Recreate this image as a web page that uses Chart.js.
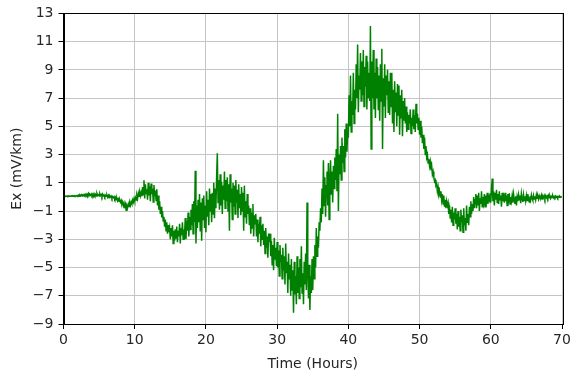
<!DOCTYPE html>
<html>
<head>
<meta charset="utf-8">
<script src="https://cdn.jsdelivr.net/npm/chart.js@4.4.1/dist/chart.umd.min.js"></script>
<style>
  body { margin: 0; background: #fff; }
</style>
</head>
<body>
<canvas id="exChart" width="570" height="373"></canvas>
<script>
// sampling of the record, hours between points
const stepHours = 0.1

// Ex values, ten samples per hour (0.0 ... 70.0 h)
const exValues = [
  0.05, 0.06, 0.05, 0.07, 0.05, 0.06, 0.04, 0.07, 0.05, 0.06,
  0.05, 0.07, 0.04, 0.08, 0.06, 0.09, 0.05, 0.08, 0.06, 0.10,
  0.07, 0.12, 0.05, 0.14, 0.08, 0.16, 0.06, 0.13, 0.09, 0.18,
  0.10, 0.17, 0.07, 0.20, 0.11, 0.24, 0.08, 0.18, 0.12, 0.21,
  0.09, 0.19, 0.05, 0.22, 0.10, 0.18, 0.06, 0.25, 0.11, 0.16,
  0.07, 0.23, 0.10, 0.17, 0.03, 0.20, 0.08, 0.14, 0.01, 0.12,
  0.04, 0.13, -0.02, 0.10, -0.06, 0.08, 0.00, 0.06, -0.09, 0.03,
  -0.05, 0.02, -0.14, -0.03, -0.20, -0.10, -0.28, -0.15, -0.30, -0.22,
  -0.38, -0.25, -0.50, -0.35, -0.62, -0.45, -0.80, -0.55, -0.95, -0.62,
  -0.75, -0.50, -0.68, -0.42, -0.60, -0.35, -0.48, -0.22, -0.38, -0.12,
  -0.30, -0.05, -0.22, 0.10, -0.12, 0.25, 0.00, 0.38, 0.08, 0.30,
  0.05, 0.70, 0.15, 1.18, -0.10, 0.90, 0.25, 0.55, -0.20, 1.00,
  0.10, 0.75, -0.30, 0.95, 0.20, 0.60, -0.35, 0.85, 0.05, 0.45,
  -0.25, 0.55, -0.60, 0.10, -0.90, -0.30, -1.20, -0.70, -1.45, -1.00,
  -1.70, -1.40, -2.10, -1.60, -2.40, -1.80, -2.60, -2.00, -2.50, -2.20,
  -3.00, -2.20, -2.80, -2.00, -3.30, -2.40, -3.10, -2.30, -2.90, -2.10,
  -3.20, -2.40, -2.80, -1.90, -3.30, -2.20, -2.70, -1.80, -3.00, -2.30,
  -2.60, -1.50, -3.00, -1.70, -2.40, -1.10, -2.80, -1.40, -2.30, -0.90,
  -2.00, -0.50, -2.60, -0.30, -1.80, 1.85, -3.30, -0.60, -2.20, -0.20,
  -1.80, 0.20, -2.40, -0.40, -3.10, -0.10, -1.60, 0.10, -2.20, -0.60,
  -2.50, 0.40, -1.40, -0.20, -2.00, 0.60, -1.00, 0.20, -1.80, 0.30,
  -1.20, 1.00, -1.50, 0.60, -0.80, 1.40, 3.10, -0.40, 1.20, -0.90,
  1.60, -0.60, 1.10, -1.20, 0.80, -0.20, 1.80, -0.80, 1.20, -0.30,
  1.40, -1.00, 0.90, -2.40, 1.60, -0.40, 0.60, -1.60, 1.00, -0.70,
  0.80, -1.20, 1.20, -0.40, 0.50, -1.50, 0.90, -0.80, 0.20, -1.30,
  0.70, -1.00, 0.30, -2.40, 0.80, -1.40, -0.30, -1.90, 0.20, -1.20,
  -0.60, -2.00, -0.80, -2.60, -1.10, -2.20, -0.50, -2.80, -1.30, -1.90,
  -1.20, -2.80, -1.60, -3.20, -1.90, -2.60, -1.40, -3.50, -2.00, -3.00,
  -1.90, -3.40, -2.40, -4.00, -2.20, -3.60, -2.80, -4.30, -2.60, -3.20,
  -2.60, -4.20, -3.10, -4.80, -3.40, -5.20, -2.90, -4.40, -3.60, -4.90,
  -3.20, -5.00, -3.80, -5.60, -3.40, -4.60, -4.10, -5.80, -3.60, -5.20,
  -4.20, -6.20, -3.30, -5.40, -4.60, -6.80, -4.00, -5.80, -4.80, -7.00,
  -4.40, -6.60, -5.20, -8.20, -4.60, -6.90, -5.60, -7.60, -4.20, -6.80,
  -5.00, -7.20, -4.40, -6.40, -3.50, -6.80, -5.40, -7.60, -4.60, -6.20,
  -4.00, -6.60, -0.40, -5.20, -7.20, -4.80, -8.00, -5.60, -6.80, -4.40,
  -6.60, -4.20, -5.80, -3.40, -5.00, -2.20, -4.20, -2.80, -3.60, -1.80,
  -2.40, -0.80, -1.80, 0.60, -1.20, 2.60, -0.60, 1.40, -1.40, 0.80,
  1.80, -0.60, 2.40, -1.60, 1.20, 2.60, 0.20, 1.80, -0.40, 2.20,
  0.60, 2.80, 1.20, 3.40, 0.40, 5.90, -1.00, 3.00, 1.60, 3.60,
  1.20, 4.20, 2.40, 3.60, 1.80, 4.80, 2.80, 5.20, 3.20, 4.60,
  4.20, 7.20, 5.00, 8.60, 4.60, 6.80, 5.80, 8.80, 5.20, 7.60,
  6.20, 9.40, 7.00, 10.80, 6.00, 8.60, 7.60, 10.20, 6.80, 9.60,
  7.20, 10.40, 6.40, 9.20, 7.80, 10.00, 6.20, 9.60, 7.00, 8.80,
  6.80, 12.10, 3.40, 9.60, 7.00, 10.40, 6.20, 8.80, 5.60, 9.80,
  7.00, 9.20, 6.20, 8.60, 5.40, 9.40, 6.80, 10.50, 3.40, 8.40,
  6.40, 9.40, 5.60, 8.60, 7.20, 9.00, 6.00, 8.20, 5.80, 8.80,
  6.40, 8.80, 5.20, 7.60, 4.60, 8.20, 6.00, 7.40, 5.00, 8.00,
  5.80, 7.90, 4.40, 7.20, 5.60, 7.60, 4.30, 6.80, 5.40, 7.00,
  5.20, 6.40, 4.60, 6.00, 4.80, 5.80, 5.20, 6.20, 4.50, 5.60,
  5.00, 6.20, 4.80, 5.80, 4.60, 6.60, 5.20, 5.90, 4.80, 5.60,
  4.40, 5.40, 4.20, 5.00, 3.80, 4.40, 3.40, 4.20, 3.00, 3.60,
  2.80, 3.00, 2.40, 2.70, 2.20, 2.50, 1.90, 2.20, 1.60, 1.80,
  1.40, 1.10, 1.20, 0.80, 0.90, 0.40, 0.70, 0.20, 0.40, 0.00,
  0.40, -0.20, 0.20, -0.50, 0.10, -0.70, -0.20, -0.80, -0.30, -0.60,
  -0.40, -1.20, -0.60, -1.50, -0.90, -1.80, -0.70, -2.00, -1.10, -1.60,
  -0.80, -1.90, -1.20, -2.30, -1.00, -2.10, -1.40, -2.40, -0.90, -1.80,
  -1.30, -2.50, -0.80, -2.00, -1.50, -2.40, -0.60, -1.80, -1.20, -2.00,
  -0.70, -1.40, -0.30, -1.20, -0.50, -1.00, 0.00, -0.80, -0.20, 0.20,
  -0.80, 0.10, -0.60, 0.30, -1.00, -0.10, -0.50, 0.40, -0.70, 0.00,
  -0.40, 0.20, -0.70, 0.10, -0.30, 0.30, -0.50, 0.00, -0.20, 0.25,
  -0.40, 0.60, 1.30, -0.30, 0.40, -0.60, 0.30, -0.20, 0.50, -0.40,
  0.20, -0.50, 0.40, -0.20, 0.10, -0.70, 0.30, -0.30, 0.00, -0.40,
  0.30, -0.30, 0.10, -0.60, 0.20, -0.20, 0.25, -0.50, 0.00, -0.30,
  0.10, -0.40, 0.20, -0.20, -0.50, 0.05, -0.60, 0.00, -0.30, 0.15,
  -0.20, 0.10, -0.45, 0.25, -0.10, -0.35, 0.15, -0.25, 0.05, -0.30,
  0.10, -0.25, 0.20, -0.15, -0.35, 0.05, -0.20, 0.15, -0.10, -0.25,
  0.10, -0.15, 0.05, -0.20, 0.15, -0.10, 0.05, -0.15, 0.10, -0.05,
  -0.10, 0.12, -0.15, 0.05, -0.05, 0.10, -0.12, 0.08, -0.06, 0.06,
  -0.08, 0.10, -0.05, 0.06, -0.10, 0.04, -0.04, 0.08, -0.06, 0.03,
  -0.05, 0.06, -0.03, 0.04, -0.06, 0.03, -0.02, 0.04, -0.02, 0.01,
  0.00
]

// axis limits and tick spacing
const hourRange = [0, 70]
const hourStep = 10
const exRange = [-9, 13]
const exStep = 2

const points = exValues.map((v, i) => ({ x: +(i * stepHours).toFixed(1), y: v }))

const tickFont = { family: "DejaVu Sans", size: 14 }

// draws the top/right spines like matplotlib
const frame = {
  id: 'frame',
  afterDraw(chart) {
    const { ctx, chartArea: a } = chart
    ctx.save()
    ctx.strokeStyle = '#000'
    ctx.lineWidth = 1
    ctx.strokeRect(Math.round(a.left) + 0.5, Math.round(a.top) + 0.5,
      Math.round(a.right - a.left), Math.round(a.bottom - a.top))
    ctx.restore()
  }
}

const minus = v => String(v).replace('-', '\u2212')

new Chart(document.getElementById('exChart'), {
  type: 'line',
  data: {
    datasets: [{
      data: points,
      borderColor: 'green',
      borderWidth: 1.5,
      pointRadius: 0,
      tension: 0,
      fill: false
    }]
  },
  options: {
    responsive: false,
    animation: false,
    events: [],
    layout: { padding: { left: 0, right: 0, top: 12, bottom: 0 } },
    plugins: { legend: { display: false }, tooltip: { enabled: false } },
    scales: {
      x: {
        type: 'linear',
        min: hourRange[0],
        max: hourRange[1],
        afterFit(s) { s.height = 49; s.paddingRight = 8 },
        ticks: { stepSize: hourStep, color: '#262626', font: tickFont, padding: 3, maxRotation: 0 },
        grid: { color: '#c4c4c4', lineWidth: 1, tickColor: '#000', tickLength: 5 },
        border: { color: '#000', width: 1 },
        title: { display: true, text: 'Time (Hours)', color: '#262626', font: tickFont, padding: { top: 4, bottom: 0 } }
      },
      y: {
        min: exRange[0],
        max: exRange[1],
        afterFit(s) { s.width = 63.5 },
        ticks: { stepSize: exStep, color: '#262626', font: tickFont, padding: 5, callback: v => minus(v) },
        grid: { color: '#c4c4c4', lineWidth: 1, tickColor: '#000', tickLength: 5 },
        border: { color: '#000', width: 1 },
        title: { display: true, text: 'Ex (mV/km)', color: '#262626', font: tickFont, padding: { top: 8.5, bottom: 0 } }
      }
    }
  },
  plugins: [frame]
})
</script>
</body>
</html>
